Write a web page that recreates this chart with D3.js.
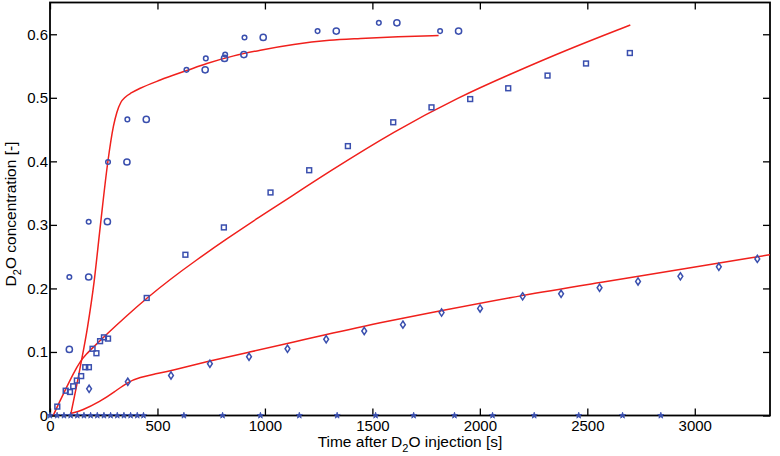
<!DOCTYPE html>
<html><head><meta charset="utf-8">
<script src="https://cdn.jsdelivr.net/npm/d3@7"></script>
<style>body{margin:0;background:#fff}</style>
</head><body>
<svg id="c" width="780" height="456"></svg>
<script>
// ---- data ----
const xTicks = [0, 500, 1000, 1500, 2000, 2500, 3000];
const yTicks = [0, 0.1, 0.2, 0.3, 0.4, 0.5, 0.6];

const circSmallT = [90, 180, 270, 360, 635, 725, 815, 905, 1245, 1530, 1815];
const circSmallY = [0.218, 0.305, 0.399, 0.466, 0.544, 0.562, 0.568, 0.595, 0.605, 0.618, 0.605];
const circLargeT = [90, 180, 267, 358, 448, 722, 812, 902, 992, 1332, 1614, 1901];
const circLargeY = [0.104, 0.218, 0.305, 0.399, 0.466, 0.544, 0.562, 0.568, 0.595, 0.605, 0.618, 0.605];

const squareT = [34, 73, 93, 108, 125, 145, 164, 181, 198, 216, 233, 251, 270, 450, 630, 809, 1026, 1206, 1386, 1597, 1775, 1955, 2132, 2315, 2494, 2698];
const squareY = [0.014, 0.039, 0.037, 0.046, 0.055, 0.062, 0.076, 0.076, 0.105, 0.098, 0.117, 0.123, 0.121, 0.185, 0.253, 0.296, 0.351, 0.386, 0.424, 0.4615, 0.485, 0.498, 0.515, 0.535, 0.554, 0.5705];

const diamondT = [182, 362, 563, 744, 926, 1105, 1285, 1462, 1642, 1822, 2001, 2199, 2378, 2557, 2736, 2933, 3112, 3291];
const diamondY = [0.042, 0.053, 0.063, 0.0815, 0.0925, 0.105, 0.120, 0.133, 0.143, 0.162, 0.1685, 0.1875, 0.1915, 0.201, 0.211, 0.219, 0.234, 0.2465];

const starT = [0, 33, 65, 96, 127, 158, 189, 220, 251, 282, 313, 344, 375, 406, 435, 623, 803, 979, 1160, 1336, 1515, 1692, 1882, 2059, 2253, 2460, 2664, 2842];
const starY = [0, 0, 0, 0, 0, 0, 0, 0, 0, 0, 0, 0, 0, 0, 0, 0, 0, 0, 0, 0, 0, 0, 0, 0, 0, 0, 0, 0];

const fit1T = [98, 140, 175, 205, 233, 269, 295, 311, 330, 350, 380, 420, 513, 637, 730, 855, 979, 1134, 1300, 1445, 1620, 1808];
const fit1Y = [0.004, 0.075, 0.14, 0.21, 0.295, 0.399, 0.455, 0.477, 0.493, 0.501, 0.508, 0.515, 0.528, 0.543, 0.554, 0.566, 0.575, 0.584, 0.5905, 0.5935, 0.5962, 0.598];

const fit2T = [15, 45, 75, 110, 140, 170, 200, 264, 350, 451, 560, 676, 820, 979, 1085, 1290, 1601, 1907, 2140, 2400, 2700];
const fit2Y = [0, 0.022, 0.043, 0.067, 0.085, 0.097, 0.107, 0.128, 0.155, 0.185, 0.2145, 0.2435, 0.2775, 0.3135, 0.3365, 0.382, 0.4475, 0.502, 0.537, 0.575, 0.6146];

const fit3T = [95, 150, 233, 300, 362, 420, 480, 563, 744, 926, 1105, 1462, 1822, 2199, 2557, 2933, 3291, 3350];
const fit3Y = [0.003, 0.008, 0.022, 0.037, 0.053, 0.06, 0.065, 0.0705, 0.086, 0.0995, 0.1135, 0.141, 0.165, 0.1895, 0.209, 0.230, 0.2497, 0.253];

// ---- layout ----
const W = 780, H = 456;
const m = {l: 50, r: 10, t: 2.5, b: 40.5};
const blue = "#3a4fae", red = "#f0201c";
const svg = d3.select("#c");
const x = d3.scaleLinear().domain([0, 3350]).range([m.l, W - m.r]);
const y = d3.scaleLinear().domain([0, 0.65]).range([H - m.b, m.t]);
const font = "'Liberation Sans', Arial, Helvetica, sans-serif";
const fs = 15, fsT = 15.5;

const zip = (a, b) => a.map((v, i) => [v, b[i]]);

// axes (inward ticks on all four sides)
const tl = 7;
const axB = d3.axisBottom(x).tickValues(xTicks).tickSizeInner(-tl).tickSizeOuter(0).tickPadding(5).tickFormat(d3.format("d"));
const axT = d3.axisTop(x).tickValues(xTicks).tickSizeInner(-tl).tickSizeOuter(0).tickFormat("");
const axL = d3.axisLeft(y).tickValues(yTicks).tickSizeInner(-tl).tickSizeOuter(0).tickPadding(2).tickFormat(d => d === 0 ? "0" : d3.format(".1f")(d));
const axR = d3.axisRight(y).tickValues(yTicks).tickSizeInner(-tl).tickSizeOuter(0).tickFormat("");

function styleAx(g) {
  g.selectAll("path.domain").remove();
  g.selectAll("line").attr("stroke", "#000").attr("stroke-width", 1.3);
  g.selectAll("text").attr("font-family", font).attr("font-size", fs).attr("fill", "#000");
}
svg.append("g").attr("transform", `translate(0,${H - m.b})`).call(axB).call(styleAx);
svg.append("g").attr("transform", `translate(0,${m.t})`).call(axT).call(styleAx);
svg.append("g").attr("transform", `translate(${m.l},0)`).call(axL).call(styleAx);
svg.append("g").attr("transform", `translate(${W - m.r},0)`).call(axR).call(styleAx);

// box
svg.append("rect").attr("x", m.l).attr("y", m.t).attr("width", W - m.r - m.l).attr("height", H - m.b - m.t)
  .attr("fill", "none").attr("stroke", "#000").attr("stroke-width", 1.8);

// clip
svg.append("clipPath").attr("id", "clip").append("rect")
  .attr("x", m.l).attr("y", m.t).attr("width", W - m.r - m.l).attr("height", H - m.b - m.t);

// fitted curves
const lineSharp = d3.line().x(d => x(d[0])).y(d => y(d[1])).curve(d3.curveMonotoneX);
const lineSmooth = d3.line().x(d => x(d[0])).y(d => y(d[1])).curve(d3.curveBasis);
const lg = svg.append("g").attr("clip-path", "url(#clip)");
[[fit1T, fit1Y, lineSharp], [fit2T, fit2Y, lineSmooth], [fit3T, fit3Y, lineSmooth]].forEach(([t, v, ln]) => {
  lg.append("path").attr("d", ln(zip(t, v))).attr("fill", "none").attr("stroke", red).attr("stroke-width", 1.5);
});

// markers
const mg = svg.append("g").attr("fill", "none").attr("stroke", blue).attr("stroke-width", 1.5);
mg.selectAll(".cs").data(zip(circSmallT, circSmallY)).join("circle")
  .attr("cx", d => x(d[0])).attr("cy", d => y(d[1])).attr("r", 2.3);
mg.selectAll(".cl").data(zip(circLargeT, circLargeY)).join("circle")
  .attr("cx", d => x(d[0])).attr("cy", d => y(d[1])).attr("r", 3.1);
mg.selectAll(".sq").data(zip(squareT, squareY)).join("rect")
  .attr("x", d => x(d[0]) - 2.4).attr("y", d => y(d[1]) - 2.4).attr("width", 4.8).attr("height", 4.8);
mg.selectAll(".dm").data(zip(diamondT, diamondY)).join("path")
  .attr("d", d => { const cx = x(d[0]), cy = y(d[1]); return `M${cx},${cy - 3.6}L${cx + 2.4},${cy}L${cx},${cy + 3.6}L${cx - 2.4},${cy}Z`; });
const star = d3.symbol().type(d3.symbolStar).size(12);
svg.append("g").selectAll("path").data(zip(starT, starY)).join("path")
  .attr("transform", d => `translate(${x(d[0])},${y(d[1])})`).attr("d", star)
  .attr("fill", blue).attr("stroke", blue).attr("stroke-width", 0.8);

// axis titles
const xt = svg.append("text").attr("x", (m.l + W - m.r) / 2).attr("y", 446.5).attr("text-anchor", "middle")
  .attr("font-family", font).attr("font-size", fsT);
xt.append("tspan").text("Time after D");
xt.append("tspan").attr("dy", 5).attr("font-size", 11).text("2");
xt.append("tspan").attr("dy", -5).text("O injection [s]");

const yt = svg.append("text").attr("transform", `translate(15.5,${(m.t + H - m.b) / 2 + 5}) rotate(-90)`)
  .attr("text-anchor", "middle").attr("font-family", font).attr("font-size", fsT);
yt.append("tspan").text("D");
yt.append("tspan").attr("dy", 5).attr("font-size", 11).text("2");
yt.append("tspan").attr("dy", -5).text("O concentration [-]");
</script>
</body></html>
